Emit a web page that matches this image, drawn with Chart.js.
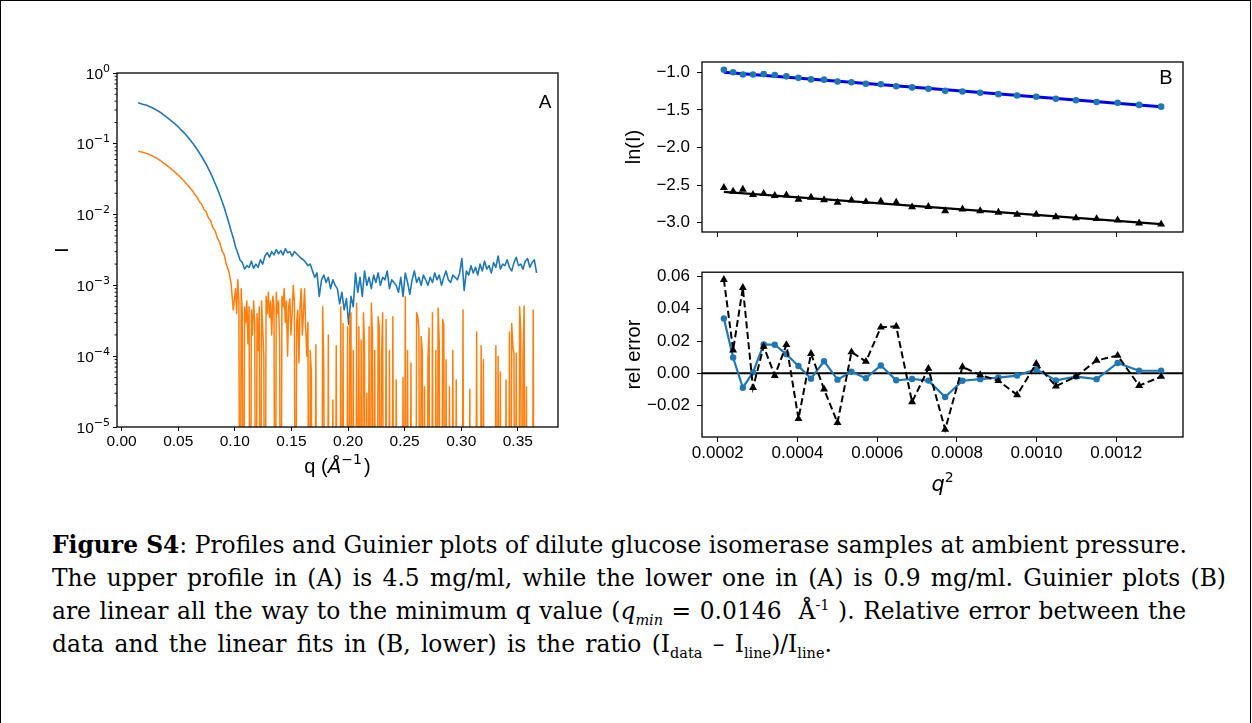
<!DOCTYPE html>
<html>
<head>
<meta charset="utf-8">
<script src="https://cdn.jsdelivr.net/npm/chart.js@4.4.1/dist/chart.umd.min.js"></script>
<style>
  html, body { margin: 0; padding: 0; background: #fff; }
  body { width: 1252px; height: 723px; position: relative; overflow: hidden; }
  #frame { position: absolute; left: 0; top: 0; width: 1249px; height: 780px; border: 1px solid #000; }
  canvas { position: absolute; }
  #cA  { left: 0;     top: 40px;  }
  #cB1 { left: 600px; top: 40px;  }
  #cB2 { left: 600px; top: 255px; }
  #cap { position: absolute; left: 52px; top: 529px; font-family: 'DejaVu Serif', 'Liberation Serif', serif;
         font-size: 21px; line-height: 33px; color: #000; white-space: nowrap; }
  #cap > div { width: max-content; height: 33px; }
  #cap sub, #cap sup { font-size: 0.62em; line-height: 0; }
</style>
</head>
<body>
<div id="frame"></div>
<canvas id="cA" width="600" height="450"></canvas>
<canvas id="cB1" width="640" height="215"></canvas>
<canvas id="cB2" width="640" height="250"></canvas>
<div id="cap">
  <div><b>Figure S4</b>: Profiles and Guinier plots of dilute glucose isomerase samples at ambient pressure.</div>
  <div>The upper profile in (A) is 4.5 mg/ml, while the lower one in (A) is 0.9 mg/ml. Guinier plots (B)</div>
  <div>are linear all the way to the minimum q value (<i>q<sub>min</sub></i> = 0.0146&nbsp; Å<sup>-1</sup> ). Relative error between the</div>
  <div>data and the linear fits in (B, lower) is the ratio (I<sub>data</sub> – I<sub>line</sub>)/I<sub>line</sub>.</div>
</div>
<script>
// ---------------- Panel A data: q (1/Å) and intensity I ----------------
const qA = [
0.0146,0.0166,0.0186,0.0206,0.0226,0.0246,0.0266,0.0286,0.0306,0.0326,
0.0346,0.0366,0.0386,0.0406,0.0426,0.0446,0.0466,0.0486,0.0506,0.0526,
0.0546,0.0566,0.0586,0.0606,0.0626,0.0646,0.0666,0.0686,0.0706,0.0726,
0.0746,0.0766,0.0786,0.0806,0.0826,0.0846,0.0866,0.0886,0.0906,0.0926,
0.0946,0.0966,0.0986,0.1006,0.1026,0.1046,0.1066,0.1086,0.1106,0.1126,
0.1146,0.1166,0.1186,0.1206,0.1226,0.1246,0.1266,0.1286,0.1306,0.1326,
0.1346,0.1366,0.1386,0.1406,0.1426,0.1446,0.1466,0.1486,0.1506,0.1526,
0.1546,0.1566,0.1586,0.1606,0.1626,0.1646,0.1666,0.1686,0.1706,0.1726,
0.1746,0.1766,0.1786,0.1806,0.1826,0.1846,0.1866,0.1886,0.1906,0.1926,
0.1946,0.1966,0.1986,0.2006,0.2026,0.2046,0.2066,0.2086,0.2106,0.2126,
0.2146,0.2166,0.2186,0.2206,0.2226,0.2246,0.2266,0.2286,0.2306,0.2326,
0.2346,0.2366,0.2386,0.2406,0.2426,0.2446,0.2466,0.2486,0.2506,0.2526,
0.2546,0.2566,0.2586,0.2606,0.2626,0.2646,0.2666,0.2686,0.2706,0.2726,
0.2746,0.2766,0.2786,0.2806,0.2826,0.2846,0.2866,0.2886,0.2906,0.2926,
0.2946,0.2966,0.2986,0.3006,0.3026,0.3046,0.3066,0.3086,0.3106,0.3126,
0.3146,0.3166,0.3186,0.3206,0.3226,0.3246,0.3266,0.3286,0.3306,0.3326,
0.3346,0.3366,0.3386,0.3406,0.3426,0.3446,0.3466,0.3486,0.3506,0.3526,
0.3546,0.3566,0.3586,0.3606,0.3626,0.3646,0.3666];

// upper profile, 4.5 mg/ml (on qA)
const iHigh = [
0.380,0.372,0.363,0.356,0.347,0.337,0.325,0.313,0.302,0.288,
0.275,0.260,0.246,0.233,0.219,0.206,0.194,0.182,0.170,0.157,
0.146,0.135,0.124,0.113,0.103,0.0933,0.0836,0.0748,0.0667,0.0586,
0.0515,0.0447,0.0385,0.0327,0.0275,0.0231,0.0191,0.0156,0.0126,0.00989,
0.00776,0.00596,0.00470,0.00352,0.00286,0.00229,0.0021,0.0017,0.0019,0.0018,
0.0022,0.00175,0.0020,0.0018,0.0023,0.0020,0.0026,0.0029,0.0025,0.0030,
0.0027,0.0032,0.0028,0.0031,0.0027,0.0033,0.0029,0.0030,0.0026,0.0030,
0.0028,0.0026,0.0024,0.0023,0.0021,0.0019,0.0020,0.0016,0.0013,0.0015,
0.0007,0.0012,0.0014,0.0011,0.0013,0.0009,0.0012,0.0010,0.0009,0.00055,
0.0008,0.00045,0.00065,0.00028,0.0007,0.0005,0.0015,0.0008,0.0013,0.0007,
0.0016,0.0010,0.0013,0.0009,0.0014,0.0011,0.0015,0.0010,0.0013,0.0012,
0.0016,0.0009,0.0012,0.0011,0.0010,0.0008,0.0013,0.0007,0.0015,0.0011,
0.00075,0.0012,0.0016,0.0011,0.0013,0.0010,0.0014,0.0012,0.0010,0.0013,
0.0011,0.0015,0.0012,0.0014,0.0010,0.0013,0.0016,0.0012,0.0011,0.0014,
0.0013,0.0012,0.0015,0.0024,0.00085,0.0016,0.0014,0.0019,0.0015,0.0018,
0.0014,0.0020,0.0016,0.0022,0.0017,0.0019,0.0015,0.0021,0.0018,0.0026,
0.0017,0.0020,0.0019,0.0023,0.0018,0.0016,0.0021,0.0025,0.0019,0.0020,
0.0017,0.0022,0.0024,0.0018,0.0021,0.0023,0.0015];

// lower profile, 0.9 mg/ml, low-q part (on the first 44 q values of qA)
const iLowCoarse = [
0.0794,0.0770,0.0762,0.0741,0.0726,0.0700,0.0681,0.0652,0.0633,0.0600,
0.0576,0.0540,0.0516,0.0483,0.0460,0.0428,0.0407,0.0376,0.0357,0.0326,
0.0306,0.0278,0.0260,0.0234,0.0217,0.0192,0.0177,0.0153,0.0141,0.0119,
0.0110,0.00905,0.00820,0.00660,0.00590,0.00465,0.00410,0.00310,0.00270,0.00195,
0.0016,0.0011,0.00045,0.0009];

// lower profile, noisy high-q part, finer q grid (0 = value at or below zero, off the log axis)
const qFine = [
0.1016,0.1026,0.1036,0.1046,0.1056,0.1066,0.1076,0.1086,0.1096,0.1106,
0.1116,0.1126,0.1136,0.1146,0.1156,0.1166,0.1176,0.1186,0.1196,0.1206,
0.1216,0.1226,0.1236,0.1246,0.1256,0.1266,0.1276,0.1286,0.1296,0.1306,
0.1316,0.1326,0.1336,0.1346,0.1356,0.1366,0.1376,0.1386,0.1396,0.1406,
0.1416,0.1426,0.1436,0.1446,0.1456,0.1466,0.1476,0.1486,0.1496,0.1506,
0.1516,0.1526,0.1536,0.1546,0.1556,0.1566,0.1576,0.1586,0.1596,0.1606,
0.1616,0.1626,0.1636,0.1646,0.1656,0.1666,0.1676,0.1686,0.1696,0.1706,
0.1716,0.1726,0.1736,0.1746,0.1756,0.1766,0.1776,0.1786,0.1796,0.1806,
0.1816,0.1826,0.1836,0.1846,0.1856,0.1866,0.1876,0.1886,0.1896,0.1906,
0.1916,0.1926,0.1936,0.1946,0.1956,0.1966,0.1976,0.1986,0.1996,0.2006,
0.2016,0.2026,0.2036,0.2046,0.2056,0.2066,0.2076,0.2086,0.2096,0.2106,
0.2116,0.2126,0.2136,0.2146,0.2156,0.2166,0.2176,0.2186,0.2196,0.2206,
0.2216,0.2226,0.2236,0.2246,0.2256,0.2266,0.2276,0.2286,0.2296,0.2306,
0.2316,0.2326,0.2336,0.2346,0.2356,0.2366,0.2376,0.2386,0.2396,0.2406,
0.2416,0.2426,0.2436,0.2446,0.2456,0.2466,0.2476,0.2486,0.2496,0.2506,
0.2516,0.2526,0.2536,0.2546,0.2556,0.2566,0.2576,0.2586,0.2596,0.2606,
0.2616,0.2626,0.2636,0.2646,0.2656,0.2666,0.2676,0.2686,0.2696,0.2706,
0.2716,0.2726,0.2736,0.2746,0.2756,0.2766,0.2776,0.2786,0.2796,0.2806,
0.2816,0.2826,0.2836,0.2846,0.2856,0.2866,0.2876,0.2886,0.2896,0.2906,
0.2916,0.2926,0.2936,0.2946,0.2956,0.2966,0.2976,0.2986,0.2996,0.3006,
0.3016,0.3026,0.3036,0.3046,0.3056,0.3066,0.3076,0.3086,0.3096,0.3106,
0.3116,0.3126,0.3136,0.3146,0.3156,0.3166,0.3176,0.3186,0.3196,0.3206,
0.3216,0.3226,0.3236,0.3246,0.3256,0.3266,0.3276,0.3286,0.3296,0.3306,
0.3316,0.3326,0.3336,0.3346,0.3356,0.3366,0.3376,0.3386,0.3396,0.3406,
0.3416,0.3426,0.3436,0.3446,0.3456,0.3466,0.3476,0.3486,0.3496,0.3506,
0.3516,0.3526,0.3536,0.3546,0.3556,0.3566,0.3576,0.3586,0.3596,0.3606,
0.3616,0.3626,0.3636,0.3646,0.3656,0.3666];
const iLowFine = [
0.0004,0.0012,0.0006,0,0.0009,0.0004,0,0.0005,0.0003,0.0006,
0.00015,0.0005,0,0.00045,0.0002,0.0006,0.0003,0,0.0004,0.00012,
0.0005,0,0.0006,0.00025,0.0001,0,0.0007,0.0004,0.0008,0.00035,
0.0006,0.0002,0.0007,0.0005,0,0.0008,0.0004,0.0006,0.00015,0,
0.0007,0.0005,0.0009,0.0003,0.0006,0.0001,0.0005,0.00065,0.0002,0.0004,
0.0010,0.0006,0,0.0003,0.00045,0.00008,0.0005,0.0009,0.0002,0.0004,
0.0009,0.00025,0.0001,0.0003,0,0.00012,0.00006,0,0,0,
0.000145,0,0,0,0,0,0.0005,0.000064,0,0,
0,0.0002,0,0,0,0.000024,0,0,0.00014,0,
0,0,0.0005,0,0.00029,0,0,0,0.00026,0,
0.00035,0.00041,0,0.00012,0,0,0.00056,0,0.00026,0,
0.00017,0,0.00041,0.00015,0,0.00003,0,0.00026,0,0.00056,
0.0002,0,0.00012,0,0,0.00036,0.00026,0,0.0001,0.00041,
0,0,0.00033,0,0,0.00012,0,0,0.00036,0,
0,0.000046,0,0,0,0,0,0.00005,0,0.00069,
0,0.00012,0,0,0.00008,0,0,0,0,0.00041,
0.00036,0.00025,0,0.00019,0.00012,0,0.000037,0,0,0.000089,
0.00025,0,0,0.00041,0,0,0.00012,0,0.00048,0.00015,
0,0,0.00033,0.00028,0,0.000089,0,0,0.000037,0,
0,0.00012,0,0,0.000046,0,0,0,0,0,
0.00045,0,0,0,0,0,0.000034,0,0,0,
0,0,0.00022,0,0,0,0.00014,0,0.000089,0,
0,0,0,0,0,0,0,0,0,0.00014,
0,0.0001,0,0.00006,0,0,0,0,0.000046,0,
0,0.00022,0,0.00029,0.00014,0.00011,0,0.00011,0,0,
0.0005,0.00022,0,0.0001,0.00051,0,0.000037,0,0,0,
0,0,0.00045,0,0,0];

// y tick labels of panel A: 10 to these powers
const aMajorTicks = [1e-5, 1e-4, 1e-3, 1e-2, 1e-1, 1];
const aMajorExp   = ['\u22125', '\u22124', '\u22123', '\u22122', '\u22121', '0'];

// ---------------- Panel B data: Guinier region ----------------
const q2 = [0.0002152,0.0002384,0.0002628,0.0002883,0.0003151,0.0003430,0.0003721,0.0004024,0.0004339,0.0004666,
            0.0005004,0.0005355,0.0005717,0.0006091,0.0006477,0.0006875,0.0007285,0.0007706,0.0008140,0.0008585,
            0.0009042,0.0009511,0.0009992,0.0010485,0.0010989,0.0011506,0.0012034,0.0012574,0.0013126];
const lnHigh = [-0.9656,-0.9990,-1.0278,-1.0290,-1.0229,-1.0348,-1.0528,-1.0728,-1.0938,-1.0967,
                -1.1222,-1.1320,-1.1511,-1.1589,-1.1842,-1.2001,-1.2182,-1.2459,-1.2541,-1.2717,
                -1.2898,-1.3082,-1.3244,-1.3520,-1.3707,-1.3939,-1.4060,-1.4334,-1.4565];
const lnLow  = [-2.5337,-2.5849,-2.5571,-2.6276,-2.6126,-2.6416,-2.6341,-2.6919,-2.6637,-2.6985,
                -2.7329,-2.7025,-2.7225,-2.7164,-2.7309,-2.7931,-2.7883,-2.8432,-2.8208,-2.8432,
                -2.8647,-2.8919,-2.8914,-2.9247,-2.9385,-2.9487,-2.9665,-3.0062,-3.0222];
const fitX    = [0.0002152, 0.0013126];
const fitHigh = [-0.9990, -1.4581];
const fitLow  = [-2.5901, -3.0202];
const errHigh = [0.0340,0.0098,-0.0089,0.0006,0.0179,0.0177,0.0118,0.0045,-0.0033,0.0075,
                 -0.0039,0.0010,-0.0030,0.0049,-0.0043,-0.0035,-0.0045,-0.0146,-0.0046,-0.0036,
                 -0.0026,-0.0014,0.0026,-0.0044,-0.0020,-0.0036,0.0064,0.0016,0.0016];
const errLow  = [0.0580,0.0144,0.0530,-0.0089,0.0167,-0.0014,0.0177,-0.0281,0.0122,-0.0098,
                 -0.0305,0.0132,0.0073,0.0285,0.0291,-0.0177,0.0030,-0.0348,0.0040,-0.0010,
                 -0.0046,-0.0133,0.0060,-0.0080,-0.0020,0.0080,0.0110,-0.0076,-0.0020];

// ---------------- styling & helpers ----------------
const SANS = "'Liberation Sans', Arial, Helvetica, sans-serif";
const MATH = "'DejaVu Sans', sans-serif";
Chart.defaults.font.family = SANS;
Chart.defaults.color = '#000';
const BLUE = '#1f77b4', ORANGE = '#ff7f0e';
const LOG_FLOOR = 1e-9;   // non-positive values are clipped below the axis (as matplotlib does)
const uminus = s => s.replace('-', '\u2212');
const isMajorA = v => aMajorTicks.some(m => Math.abs(v - m) / m < 1e-6);
const clipLog = v => (v > 0 ? v : LOG_FLOOR);

// draw a row of text pieces (for superscripts); align: 'center' | 'right'
function drawRich(ctx, segs, x, y, align) {
  let total = 0;
  for (const s of segs) { ctx.font = s.font; s.w = ctx.measureText(s.t).width; total += s.w + (s.gap || 0); }
  let cx = align === 'right' ? x - total : x - total / 2;
  ctx.textAlign = 'left'; ctx.textBaseline = 'alphabetic'; ctx.fillStyle = '#000';
  for (const s of segs) { ctx.font = s.font; ctx.fillText(s.t, cx, y + (s.dy || 0)); cx += s.w + (s.gap || 0); }
}

const boxPlugin = {
  id: 'box',
  beforeDatasetsDraw(chart, args, o) {
    if (!o.zeroLine) return;
    const {ctx, chartArea: a} = chart;
    const y = chart.scales.y.getPixelForValue(0);
    ctx.save();
    ctx.strokeStyle = '#000'; ctx.lineWidth = 2;
    ctx.beginPath(); ctx.moveTo(a.left, y); ctx.lineTo(a.right, y); ctx.stroke();
    ctx.restore();
  },
  afterDraw(chart, args, o) {
    const {ctx, chartArea: a} = chart;
    ctx.save();
    ctx.strokeStyle = '#000'; ctx.lineWidth = 1.3;
    ctx.strokeRect(a.left, a.top, a.right - a.left, a.bottom - a.top);
    if (o.minorY) {
      const s = chart.scales.y;
      ctx.lineWidth = 0.9;
      ctx.beginPath();
      for (const t of s.ticks) {
        if (isMajorA(t.value)) continue;
        const y = s.getPixelForValue(t.value);
        ctx.moveTo(a.left, y); ctx.lineTo(a.left - 2.4, y);
      }
      ctx.stroke();
      // power-of-ten labels with a real superscript
      aMajorTicks.forEach((m, i) => {
        const y = s.getPixelForValue(m);
        drawRich(ctx, [
          { t: '10', font: '15.5px ' + SANS },
          { t: aMajorExp[i], font: '11px ' + MATH, dy: -7 }
        ], a.left - 7, y + 5.5, 'right');
      });
    }
    if (o.xTitle) {
      drawRich(ctx, o.xTitle, (a.left + a.right) / 2, a.bottom + o.xTitleDy, 'center');
    }
    if (o.label) {
      ctx.font = o.labelFont; ctx.fillStyle = '#000';
      ctx.textAlign = 'center'; ctx.textBaseline = 'middle';
      ctx.fillText(o.label, a.right - o.dx, a.top + o.dy);
    }
    ctx.restore();
  }
};

const common = {
  responsive: false, animation: false, events: [],
  plugins: { legend: { display: false }, tooltip: { enabled: false } }
};

// ---------------- Panel A ----------------
const lowPoints = qA.slice(0, iLowCoarse.length).map((x, i) => ({ x, y: clipLog(iLowCoarse[i]) }))
  .concat(qFine.map((x, i) => ({ x, y: clipLog(iLowFine[i]) })));

new Chart(document.getElementById('cA'), {
  type: 'line',
  data: { datasets: [
    { data: qA.map((x, i) => ({ x, y: iHigh[i] })), borderColor: BLUE, borderWidth: 1.6,
      pointRadius: 0, tension: 0, borderJoinStyle: 'round', order: 2 },
    { data: lowPoints, borderColor: ORANGE, borderWidth: 1.5,
      pointRadius: 0, tension: 0, borderJoinStyle: 'round', order: 1 }
  ]},
  options: { ...common,
    layout: { padding: { left: 0, top: 33, right: 42, bottom: 0 } },
    plugins: { ...common.plugins, box: {
      minorY: true, label: 'A', labelFont: '19px ' + SANS, dx: 13, dy: 30,
      xTitle: [
        { t: 'q (', font: '20px ' + SANS },
        { t: 'Å', font: 'italic 20px ' + MATH },
        { t: '\u22121', font: '14px ' + MATH, dy: -9, gap: 2 },
        { t: ')', font: '20px ' + SANS }
      ], xTitleDy: 46 } },
    scales: {
      x: { type: 'linear', min: -0.0041, max: 0.3855,
           ticks: { stepSize: 0.05, includeBounds: false, callback: v => v.toFixed(2), font: { size: 15.5 }, padding: 1, maxRotation: 0 },
           grid: { drawOnChartArea: false, tickLength: 4, tickColor: '#000', tickWidth: 1 },
           border: { display: false },
           afterFit: s => { s.height = 63; } },
      y: { type: 'logarithmic', min: 1e-5, max: 1,
           afterBuildTicks: s => {
             const t = [];
             for (const m of aMajorTicks) { t.push({ value: m }); if (m < 1) for (let k = 2; k <= 9; k++) t.push({ value: m * k }); }
             s.ticks = t;
           },
           ticks: { autoSkip: false, font: { size: 15 }, padding: 3, callback: () => '' },
           grid: { drawOnChartArea: false, tickLength: 4, tickWidth: 1,
                   tickColor: c => (c.tick && isMajorA(c.tick.value)) ? '#000' : 'rgba(0,0,0,0)' },
           border: { display: false },
           title: { display: true, text: 'I', font: { size: 19 }, padding: { top: 51, bottom: 0 } },
           afterFit: s => { s.width = 117; } }
    }
  },
  plugins: [boxPlugin]
});

// ---------------- Panel B (upper): Guinier plot ----------------
const bx = (showLabels, h) => ({
  type: 'linear', min: 0.0001603, max: 0.0013675,
  ticks: { display: showLabels, stepSize: 0.0002, includeBounds: false, callback: v => v.toFixed(4), font: { size: 17 }, padding: 1, maxRotation: 0 },
  grid: { drawOnChartArea: false, tickLength: 5, tickColor: '#000', tickWidth: 1 },
  border: { display: false },
  afterFit: s => { s.height = h; }
});

new Chart(document.getElementById('cB1'), {
  type: 'line',
  data: { datasets: [
    { data: q2.map((x, i) => ({ x, y: lnHigh[i] })), showLine: false, pointRadius: 3.3,
      pointBackgroundColor: BLUE, pointBorderWidth: 0, order: 0 },
    { data: q2.map((x, i) => ({ x, y: lnLow[i] })), showLine: false, pointStyle: 'triangle', pointRadius: 4.6,
      pointBackgroundColor: '#000', pointBorderWidth: 0, order: 0 },
    { data: fitX.map((x, i) => ({ x, y: fitHigh[i] })), borderColor: '#0000ff', borderWidth: 3, pointRadius: 0, order: 1 },
    { data: fitX.map((x, i) => ({ x, y: fitLow[i] })), borderColor: '#000', borderWidth: 2.2, pointRadius: 0, order: 1 }
  ]},
  options: { ...common,
    layout: { padding: { left: 0, top: 22, right: 57, bottom: 0 } },
    plugins: { ...common.plugins, box: { label: 'B', labelFont: '20px ' + SANS, dx: 17, dy: 16 } },
    scales: {
      x: bx(false, 23),
      y: { type: 'linear', min: -3.125, max: -0.862,
           ticks: { stepSize: 0.5, includeBounds: false, callback: v => uminus(v.toFixed(1)), font: { size: 17 }, padding: 7 },
           grid: { drawOnChartArea: false, tickLength: 5, tickColor: '#000', tickWidth: 1 },
           border: { display: false },
           title: { display: true, text: 'ln(I)', font: { size: 20 }, padding: { top: 22, bottom: 0 } },
           afterFit: s => { s.width = 102; } }
    }
  },
  plugins: [boxPlugin]
});

// ---------------- Panel B (lower): relative error ----------------
new Chart(document.getElementById('cB2'), {
  type: 'line',
  data: { datasets: [
    { data: q2.map((x, i) => ({ x, y: errHigh[i] })), borderColor: BLUE, borderWidth: 2.2, tension: 0,
      pointRadius: 3.2, pointBackgroundColor: BLUE, pointBorderWidth: 0, order: 1 },
    { data: q2.map((x, i) => ({ x, y: errLow[i] })), borderColor: '#000', borderWidth: 2, borderDash: [7, 3.5], tension: 0,
      pointStyle: 'triangle', pointRadius: 4.6, pointBackgroundColor: '#000', pointBorderWidth: 0, order: 0 }
  ]},
  options: { ...common,
    layout: { padding: { left: 0, top: 12, right: 57, bottom: 0 } },
    plugins: { ...common.plugins, box: {
      zeroLine: true,
      xTitle: [
        { t: 'q', font: 'italic 21px ' + MATH },
        { t: '2', font: '14px ' + MATH, dy: -9, gap: 0 }
      ], xTitleDy: 54 } },
    scales: {
      x: bx(true, 68),
      y: { type: 'linear', min: -0.0394, max: 0.0626,
           ticks: { stepSize: 0.02, includeBounds: false, callback: v => uminus(v.toFixed(2)), font: { size: 17 }, padding: 7 },
           grid: { drawOnChartArea: false, tickLength: 5, tickColor: '#000', tickWidth: 1 },
           border: { display: false },
           title: { display: true, text: 'rel error', font: { size: 20 }, padding: { top: 22, bottom: 0 } },
           afterFit: s => { s.width = 102; } }
    }
  },
  plugins: [boxPlugin]
});

// ---------------- caption fitting ----------------
const capTargets = [1135, 1174, 1133, 780];
function fitCaption() {
  const cap = document.getElementById('cap');
  const lines = Array.from(cap.children);
  cap.style.fontSize = '21px';
  lines.forEach(l => l.style.wordSpacing = '0px');
  const w0 = lines[0].getBoundingClientRect().width;
  let fs = 21 * capTargets[0] / w0;
  fs = Math.max(17, Math.min(25, fs));
  cap.style.fontSize = fs.toFixed(2) + 'px';
  lines.forEach((l, i) => {
    const w = l.getBoundingClientRect().width;
    const spaces = (l.textContent.match(/ /g) || []).length || 1;
    const ws = Math.max(-3, Math.min(4, (capTargets[i] - w) / spaces));
    l.style.wordSpacing = ws.toFixed(2) + 'px';
  });
}
fitCaption();
if (document.fonts && document.fonts.ready) document.fonts.ready.then(fitCaption);
</script>
</body>
</html>
